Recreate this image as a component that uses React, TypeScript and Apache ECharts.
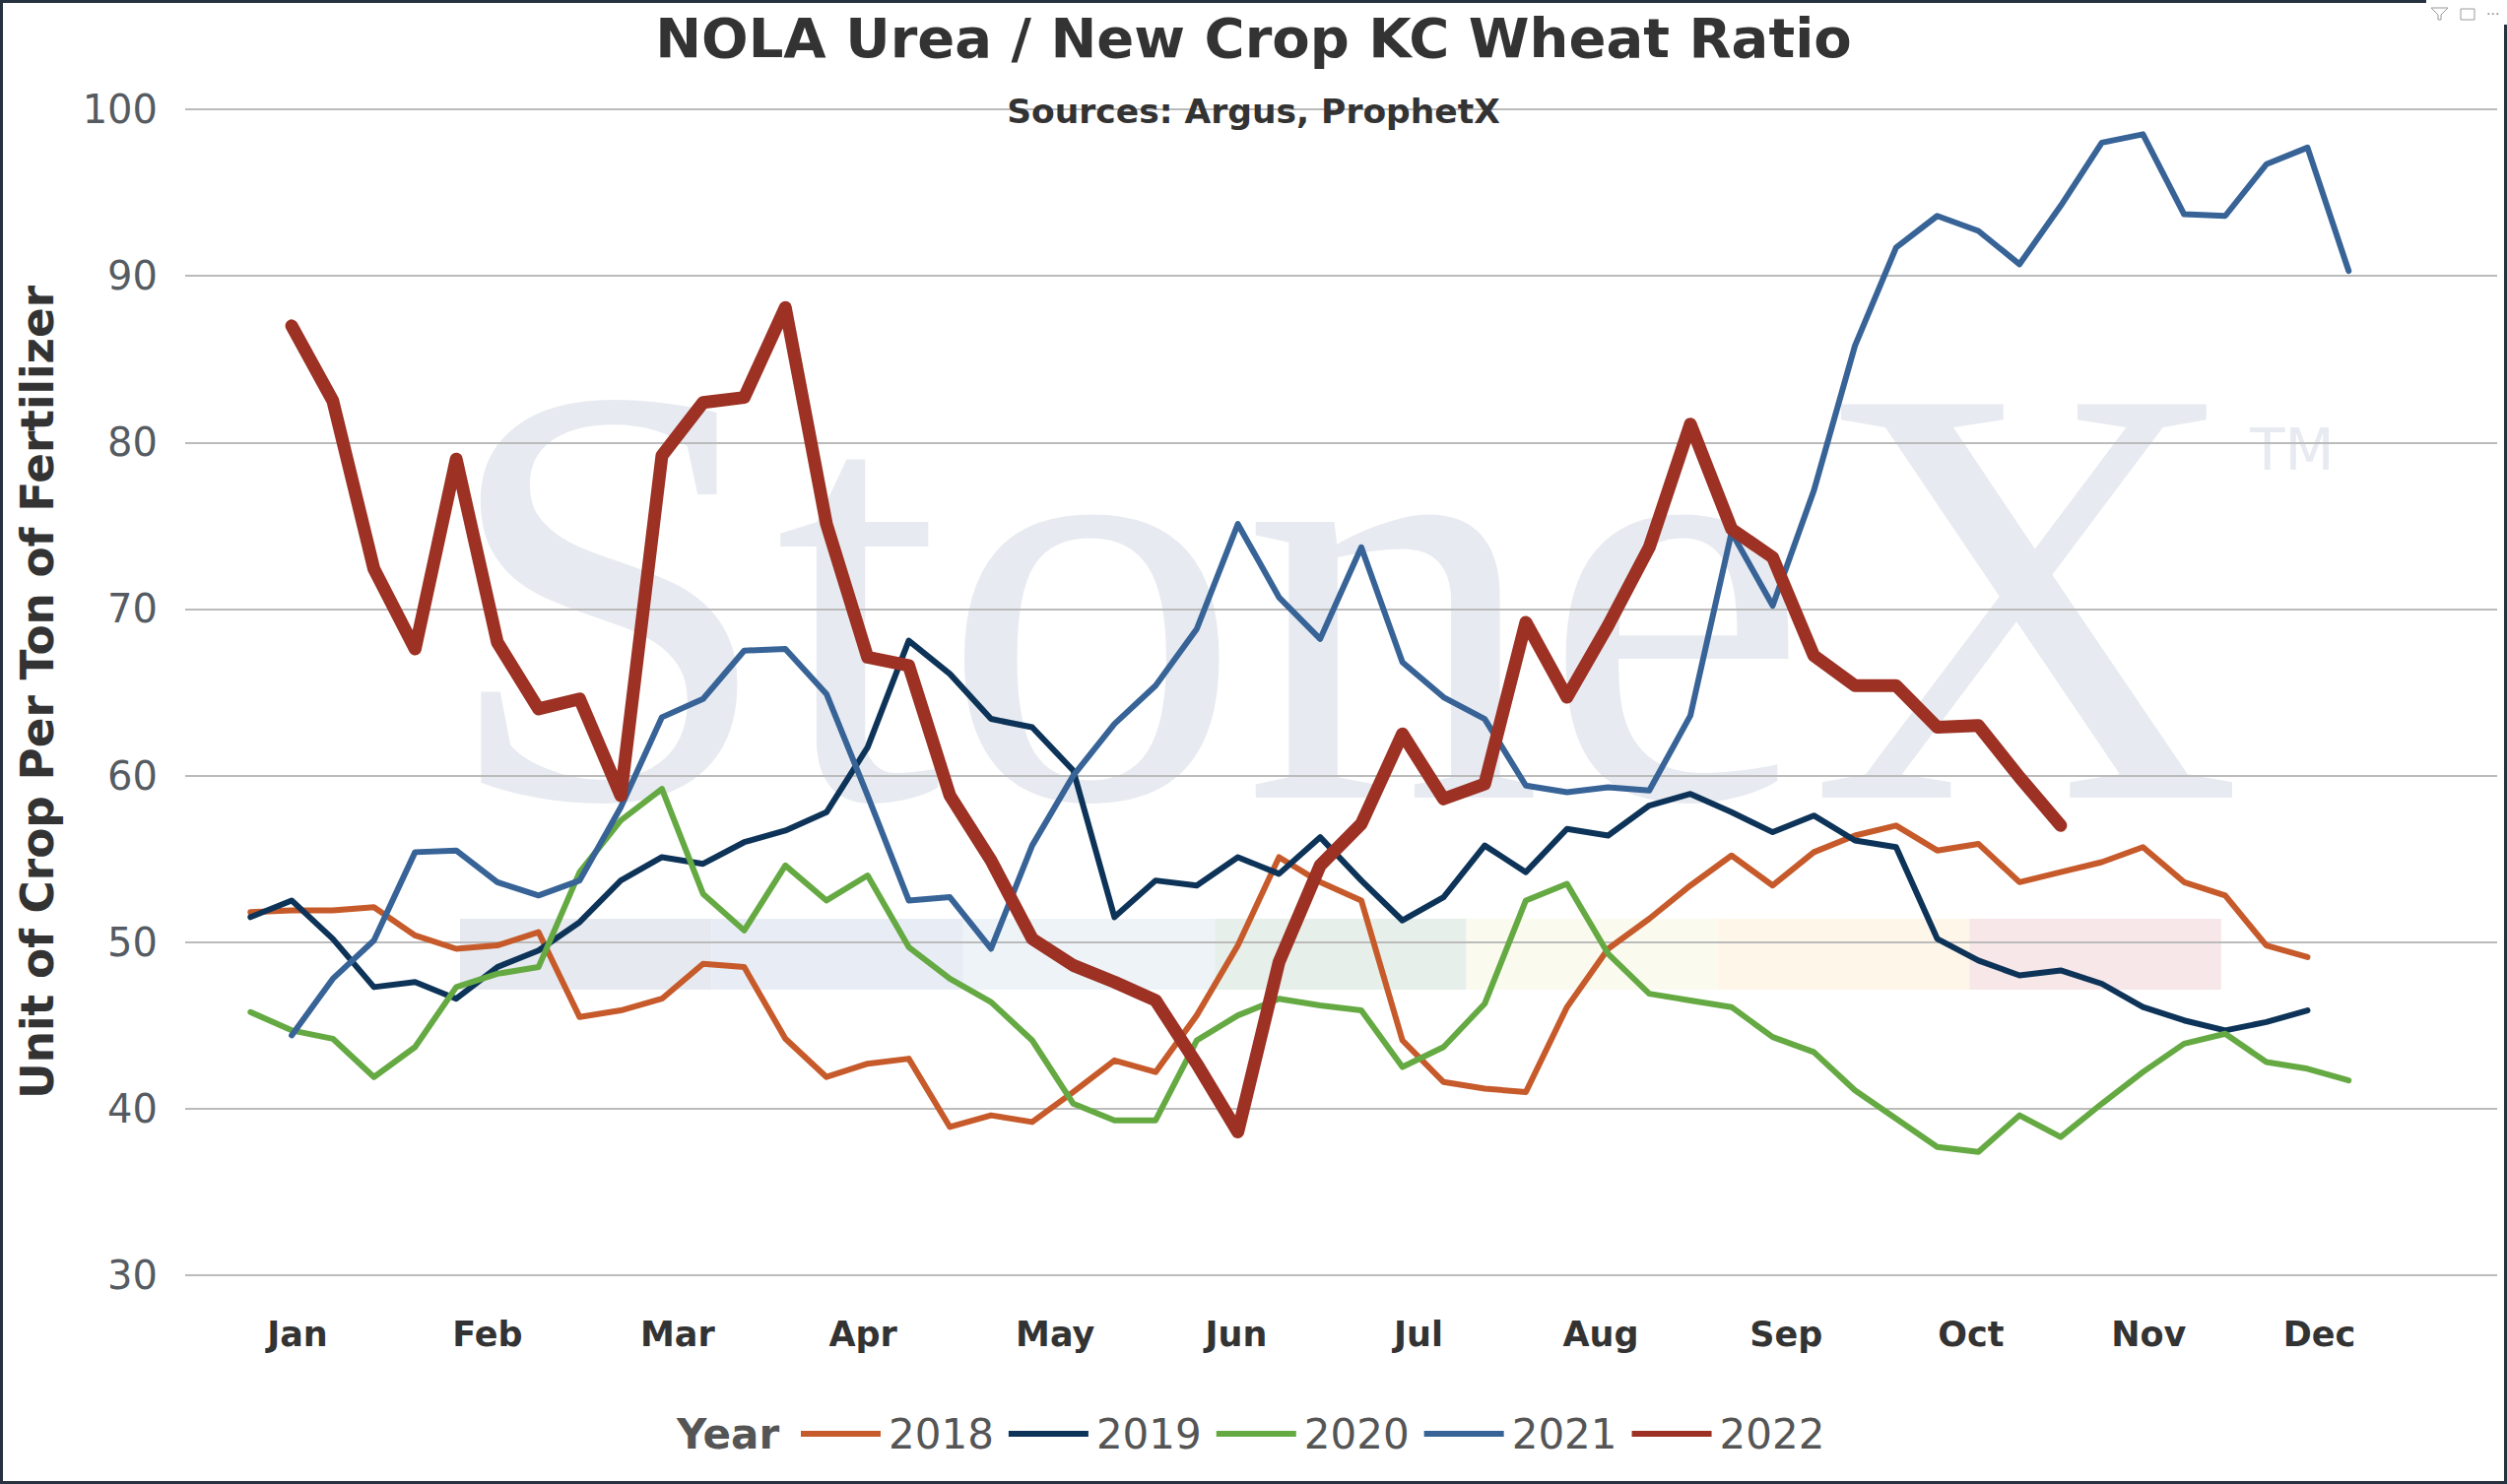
import { useEffect, useRef } from 'react';
import * as echarts from 'echarts';

// 周数（0..51），每条线一个值；null 表示该周没有数据
const YEARS = ['2018', '2019', '2020', '2021', '2022'];
const MONTHS = ['Jan', 'Feb', 'Mar', 'Apr', 'May', 'Jun', 'Jul', 'Aug', 'Sep', 'Oct', 'Nov', 'Dec'];
// 月份标签所在的周位置
const MONTH_POS = [1.14, 5.76, 10.38, 14.89, 19.56, 23.96, 28.39, 32.82, 37.33, 41.82, 46.14, 50.29];

const V2018 = [
  51.8, 51.9, 51.9, 52.1, 50.4, 49.6, 49.8, 50.6, 45.5, 45.9, 46.6, 48.7, 48.5,
  44.2, 41.9, 42.7, 43.0, 38.9, 39.6, 39.2, 41.0, 42.9, 42.2, 45.6, 49.8, 55.1,
  53.6, 52.5, 44.1, 41.6, 41.2, 41.0, 46.1, 49.6, 51.4, 53.4, 55.2, 53.4, 55.4,
  56.4, 57.0, 55.5, 55.9, 53.6, 54.2, 54.8, 55.7, 53.6, 52.8, 49.8, 49.1, null,
];
const V2019 = [
  51.5, 52.5, 50.2, 47.3, 47.6, 46.6, 48.5, 49.5, 51.2, 53.7, 55.1, 54.7, 56.0,
  56.7, 57.8, 61.7, 68.1, 66.1, 63.4, 62.9, 60.3, 51.5, 53.7, 53.4, 55.1, 54.1,
  56.3, 53.7, 51.3, 52.7, 55.8, 54.2, 56.8, 56.4, 58.2, 58.9, 57.8, 56.6, 57.6,
  56.1, 55.7, 50.2, 48.9, 48.0, 48.3, 47.5, 46.1, 45.3, 44.7, 45.2, 45.9, null,
];
const V2020 = [
  45.8, 44.7, 44.2, 41.9, 43.7, 47.3, 48.1, 48.5, 54.2, 57.3, 59.2, 52.9, 50.7,
  54.6, 52.5, 54.0, 49.7, 47.8, 46.4, 44.1, 40.3, 39.3, 39.3, 44.1, 45.6, 46.6,
  46.2, 45.9, 42.5, 43.7, 46.3, 52.5, 53.5, 49.3, 46.9, 46.5, 46.1, 44.3, 43.4,
  41.1, 39.4, 37.7, 37.4, 39.6, 38.3, 40.3, 42.2, 43.9, 44.5, 42.8, 42.4, 41.7,
];
const V2021 = [
  null, 44.4, 47.8, 50.1, 55.4, 55.5, 53.6, 52.8, 53.7, 58.1, 63.5, 64.6, 67.5,
  67.6, 64.9, 58.8, 52.5, 52.7, 49.6, 55.8, 60.0, 63.1, 65.4, 68.8, 75.1, 70.7,
  68.2, 73.7, 66.8, 64.7, 63.4, 59.4, 59.0, 59.3, 59.1, 63.6, 74.6, 70.2, 77.1,
  85.8, 91.7, 93.6, 92.7, 90.7, 94.2, 98.0, 98.5, 93.7, 93.6, 96.7, 97.7, 90.3,
];
const V2022 = [
  null, 87.0, 82.5, 72.4, 67.6, 79.0, 68.0, 64.0, 64.6, 58.8, 79.2, 82.4, 82.7,
  88.1, 75.1, 67.1, 66.6, 58.8, 54.9, 50.2, 48.6, 47.6, 46.5, 42.7, 38.6, 48.8,
  54.6, 57.1, 62.5, 58.6, 59.5, 69.2, 64.7, 69.0, 73.7, 81.1, 74.8, 73.1, 67.2,
  65.4, 65.4, 62.9, 63.0, 59.9, 57.0,
];

const SERIES_VALUES = [V2018, V2019, V2020, V2021, V2022];
const COLORS = ['#c65a2a', '#0d3458', '#65a943', '#376397', '#9c3124'];
const BAND_COLORS = ['#e6eaf0', '#e8edf5', '#eef3f8', '#e6efe9', '#fafbee', '#fdf6e9', '#f7e7e8'];

const FONT = '"DejaVu Sans", Verdana, sans-serif';
const WATERMARK = '#e7eaf0';
const BORDER = '#26323f';

function toPoints(values: (number | null)[]) {
  return values
    .map((v, i) => (v == null ? null : [i, v]))
    .filter((p) => p !== null) as number[][];
}

function buildOption() {
  // 背景水印 StoneX 下方的色带
  const bands = BAND_COLORS.map((c, k) => ({
    type: 'rect',
    z: -1,
    shape: { x: 467 + k * 255.4, y: 933, width: 255.4, height: 72 },
    style: { fill: c },
    silent: true,
  }));

  return {
    animation: false,
    backgroundColor: '#ffffff',
    title: [
      {
        text: 'NOLA Urea / New Crop KC Wheat Ratio',
        left: 'center',
        top: 1,
        textStyle: { fontFamily: FONT, fontSize: 56, fontWeight: 'bold', color: '#333333', lineHeight: 64 },
      },
      {
        text: 'Sources: Argus, ProphetX',
        left: 'center',
        top: 87,
        textStyle: { fontFamily: FONT, fontSize: 34.5, fontWeight: 'bold', color: '#333333', lineHeight: 42 },
      },
      {
        text: 'Year',
        left: 682,
        top: 1427,
        textStyle: { fontFamily: FONT, fontSize: 42, fontWeight: 'bold', color: '#555555', lineHeight: 48 },
      },
    ],
    legend: {
      data: YEARS,
      left: 808,
      top: 1427,
      orient: 'horizontal',
      icon: 'rect',
      itemWidth: 81,
      itemHeight: 6,
      itemGap: 15,
      textStyle: { fontFamily: FONT, fontSize: 42, color: '#555555', lineHeight: 48, padding: [0, 0, 0, 3] },
    },
    grid: {
      left: 188,
      right: 10,
      top: 111,
      bottom: 212,
      containLabel: false,
      outerBoundsMode: 'none',
    },
    xAxis: {
      type: 'value',
      min: -1.588,
      max: 54.61,
      axisLine: { show: false },
      axisTick: { show: false },
      splitLine: { show: false },
      axisLabel: {
        customValues: MONTH_POS,
        margin: 42,
        fontFamily: FONT,
        fontSize: 35,
        fontWeight: 'bold',
        color: '#333333',
        formatter: (v: number) => {
          const k = MONTH_POS.findIndex((p) => Math.abs(p - v) < 1e-6);
          return k >= 0 ? MONTHS[k] : '';
        },
      },
    },
    yAxis: {
      type: 'value',
      min: 30,
      max: 100,
      interval: 10,
      name: 'Unit of Crop Per Ton of Fertilizer',
      nameLocation: 'middle',
      nameGap: 127,
      nameTextStyle: { fontFamily: FONT, fontSize: 45.3, fontWeight: 'bold', color: '#333333' },
      axisLine: { show: false },
      axisTick: { show: false },
      axisLabel: { margin: 28, fontFamily: FONT, fontSize: 40, color: '#555b61' },
      splitLine: { lineStyle: { color: '#bbbbbb', width: 2 } },
    },
    series: YEARS.map((name, i) => {
      const thick = name === '2022';
      return {
        name,
        type: 'line',
        data: toPoints(SERIES_VALUES[i]),
        symbol: 'none',
        z: 2 + i,
        color: COLORS[i],
        itemStyle: { color: COLORS[i] },
        lineStyle: { color: COLORS[i], width: thick ? 13 : 6, cap: 'round', join: 'round' },
      };
    }),
    graphic: [
      {
        type: 'text',
        z: -1,
        silent: true,
        x: 447,
        y: 604,
        style: {
          text: 'StoneX',
          fontFamily: '"Liberation Serif", "DejaVu Serif", serif',
          fontSize: 610,
          fill: WATERMARK,
          verticalAlign: 'middle',
          align: 'left',
        },
      },
      {
        type: 'text',
        z: -1,
        silent: true,
        x: 2284,
        y: 457,
        style: { text: 'TM', fontFamily: FONT, fontSize: 58, fill: WATERMARK, verticalAlign: 'middle', align: 'left' },
      },
      ...bands,
      // 外框
      { type: 'line', z: 100, silent: true, shape: { x1: 0, y1: 1.5, x2: 2463, y2: 1.5 }, style: { stroke: BORDER, lineWidth: 3 } },
      { type: 'line', z: 100, silent: true, shape: { x1: 1.5, y1: 0, x2: 1.5, y2: 1507 }, style: { stroke: BORDER, lineWidth: 3 } },
      { type: 'line', z: 100, silent: true, shape: { x1: 0, y1: 1505.5, x2: 2545, y2: 1505.5 }, style: { stroke: BORDER, lineWidth: 3 } },
      { type: 'line', z: 100, silent: true, shape: { x1: 2543.5, y1: 25, x2: 2543.5, y2: 1507 }, style: { stroke: BORDER, lineWidth: 3 } },
      // 右上角小图标
      {
        type: 'polyline',
        z: 100,
        silent: true,
        shape: { points: [[2468, 8], [2485, 8], [2478, 15], [2478, 20], [2475, 20], [2475, 15], [2468, 8]] },
        style: { stroke: '#9a9a9a', lineWidth: 1, fill: 'none' },
      },
      {
        type: 'rect',
        z: 100,
        silent: true,
        shape: { x: 2498, y: 9, width: 14, height: 11 },
        style: { stroke: '#9a9a9a', lineWidth: 1, fill: 'none' },
      },
      {
        type: 'text',
        z: 100,
        silent: true,
        x: 2524,
        y: 14,
        style: { text: '···', fontFamily: FONT, fontSize: 14, fill: '#888888', verticalAlign: 'middle' },
      },
    ],
  };
}

export default function App() {
  const ref = useRef<HTMLDivElement>(null);

  useEffect(() => {
    if (!ref.current) return;
    const chart = echarts.init(ref.current, null, { renderer: 'svg' });
    chart.setOption(buildOption() as any);
    return () => {
      chart.dispose();
    };
  }, []);

  return (
    <div
      ref={ref}
      style={{ position: 'fixed', left: 0, top: 0, width: 2545, height: 1507, background: '#ffffff' }}
    />
  );
}
